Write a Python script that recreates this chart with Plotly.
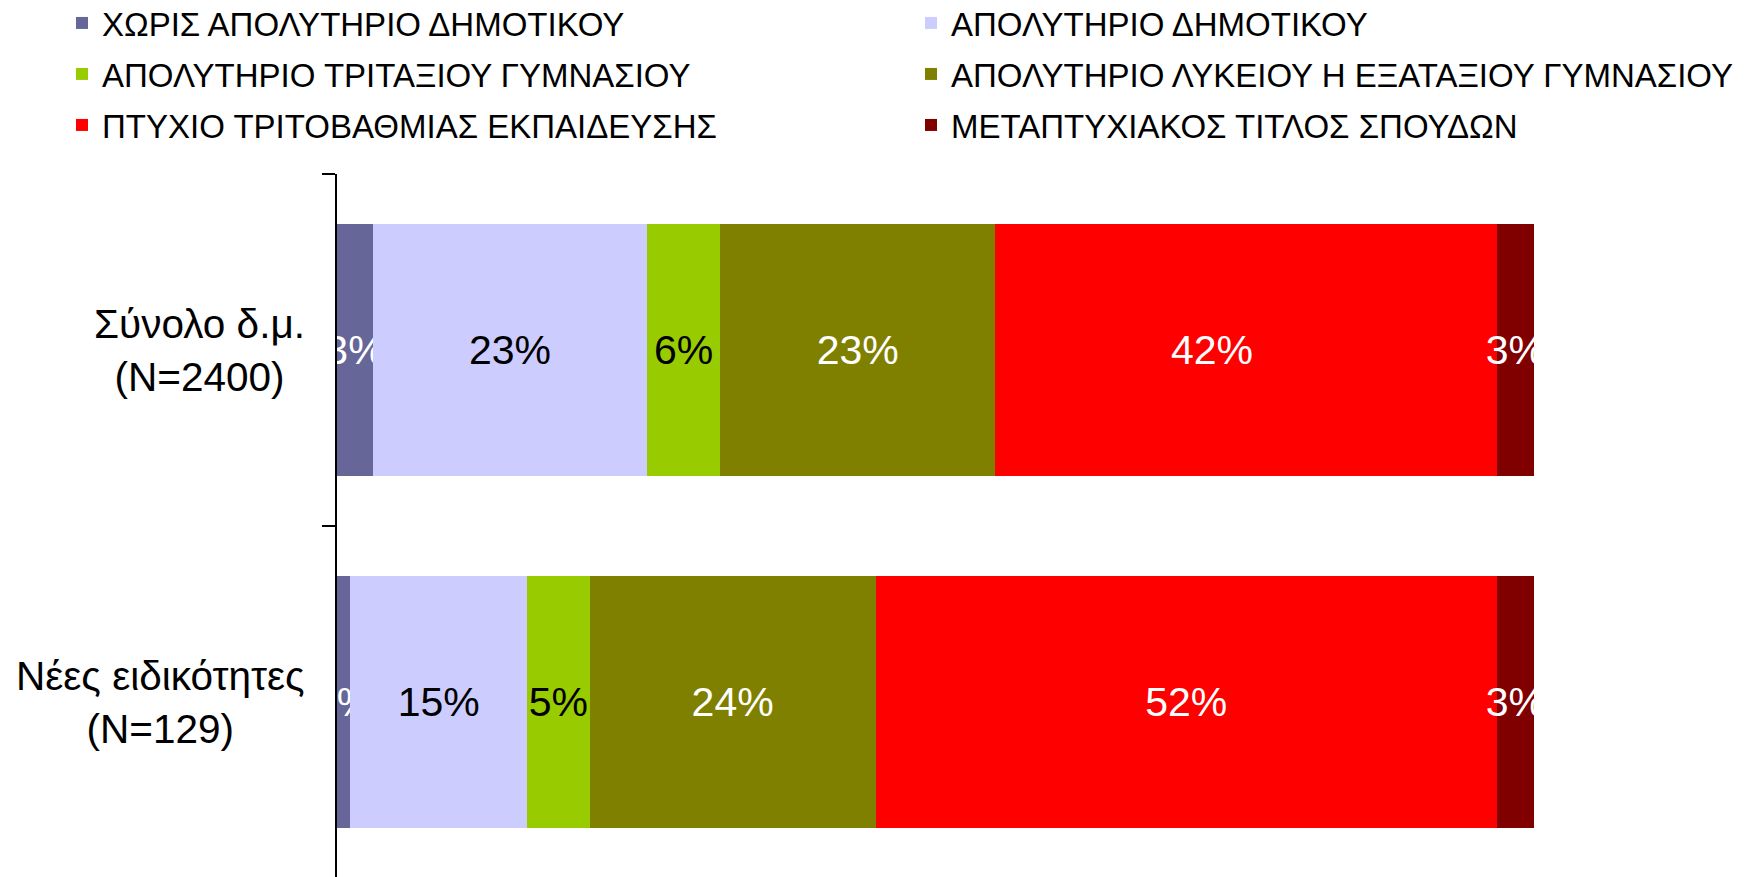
import plotly.graph_objects as go

categories = ["Σύνολο δ.μ.", "Νέες ειδικότητες"]
category_labels = ["Σύνολο δ.μ.<br>(N=2400)", "Νέες ειδικότητες<br>(N=129)"]

series_names = [
    "ΧΩΡΙΣ ΑΠΟΛΥΤΗΡΙΟ ΔΗΜΟΤΙΚΟΥ",
    "ΑΠΟΛΥΤΗΡΙΟ ΔΗΜΟΤΙΚΟΥ",
    "ΑΠΟΛΥΤΗΡΙΟ ΤΡΙΤΑΞΙΟΥ ΓΥΜΝΑΣΙΟΥ",
    "ΑΠΟΛΥΤΗΡΙΟ ΛΥΚΕΙΟΥ Η ΕΞΑΤΑΞΙΟΥ ΓΥΜΝΑΣΙΟΥ",
    "ΠΤΥΧΙΟ ΤΡΙΤΟΒΑΘΜΙΑΣ ΕΚΠΑΙΔΕΥΣΗΣ",
    "ΜΕΤΑΠΤΥΧΙΑΚΟΣ ΤΙΤΛΟΣ ΣΠΟΥΔΩΝ",
]
no_primary = [3.0, 1.1]
primary = [22.9, 14.8]
gymnasium = [6.1, 5.2]
lyceum = [23.0, 23.9]
tertiary = [41.9, 51.9]
postgraduate = [3.1, 3.1]
series_values = [no_primary, primary, gymnasium, lyceum, tertiary, postgraduate]

colors = ["#666699", "#CCCCFF", "#99CC00", "#808000", "#FF0000", "#800000"]
text_colors = ["white", "black", "black", "white", "white", "white"]

W, H = 1760, 877
FONT = "Liberation Sans, Arial, sans-serif"

# legend positions (pixels within the figure): item left x, row center y
legend_x = [54, 903, 54, 903, 54, 903]
legend_y = [15, 15, 66, 66, 117, 117]

NB = "\u00a0"
fig = go.Figure()
for i, (name, vals) in enumerate(zip(series_names, series_values)):
    lg = "legend" if i == 0 else f"legend{i+1}"
    tmpl = "%{x:.0f}%"
    if i == 4:
        # the first label of this series sits left of the segment centre
        tmpl = [tmpl + NB * 6, tmpl]
    fig.add_trace(go.Bar(
        y=categories, x=vals, name=name, orientation="h",
        marker=dict(color=colors[i], line=dict(width=0)),
        texttemplate=tmpl, textposition="inside",
        insidetextanchor="middle", constraintext="none", textangle=0,
        textfont=dict(color=text_colors[i], size=41, family=FONT),
        cliponaxis=True, legend=lg, hoverinfo="skip",
    ))

layout_legends = {}
for i in range(6):
    key = "legend" if i == 0 else f"legend{i+1}"
    layout_legends[key] = dict(
        orientation="v", xref="container", yref="container",
        x=legend_x[i] / W, y=1 - legend_y[i] / H,
        xanchor="left", yanchor="middle",
        font=dict(size=33, family=FONT, color="black"),
        bgcolor="rgba(0,0,0,0)", borderwidth=0,
        itemclick=False, itemdoubleclick=False,
    )

annotations = [
    dict(text=lab, x=0, xref="paper", xshift=-30, y=cat, yref="y",
         xanchor="right", yanchor="middle", align="center", showarrow=False,
         font=dict(size=40.5, family=FONT, color="black"))
    for cat, lab in zip(categories, category_labels)
]

fig.update_layout(
    width=W, height=H,
    margin=dict(l=329, r=234, t=166, b=7, pad=0, autoexpand=False),
    barmode="stack", bargap=0.283,
    plot_bgcolor="white", paper_bgcolor="white",
    showlegend=True,
    annotations=annotations,
    xaxis=dict(range=[0, 100], visible=False, showgrid=False, zeroline=False),
    yaxis=dict(type="category", categoryorder="array", categoryarray=categories,
               range=[1.5, -0.5], tickson="boundaries", ticks="outside",
               ticklen=13, tickwidth=2, tickcolor="black",
               showline=True, linewidth=2, linecolor="black",
               showticklabels=False, showgrid=False, zeroline=False),
    **layout_legends,
)

fig.write_html("out.html")
